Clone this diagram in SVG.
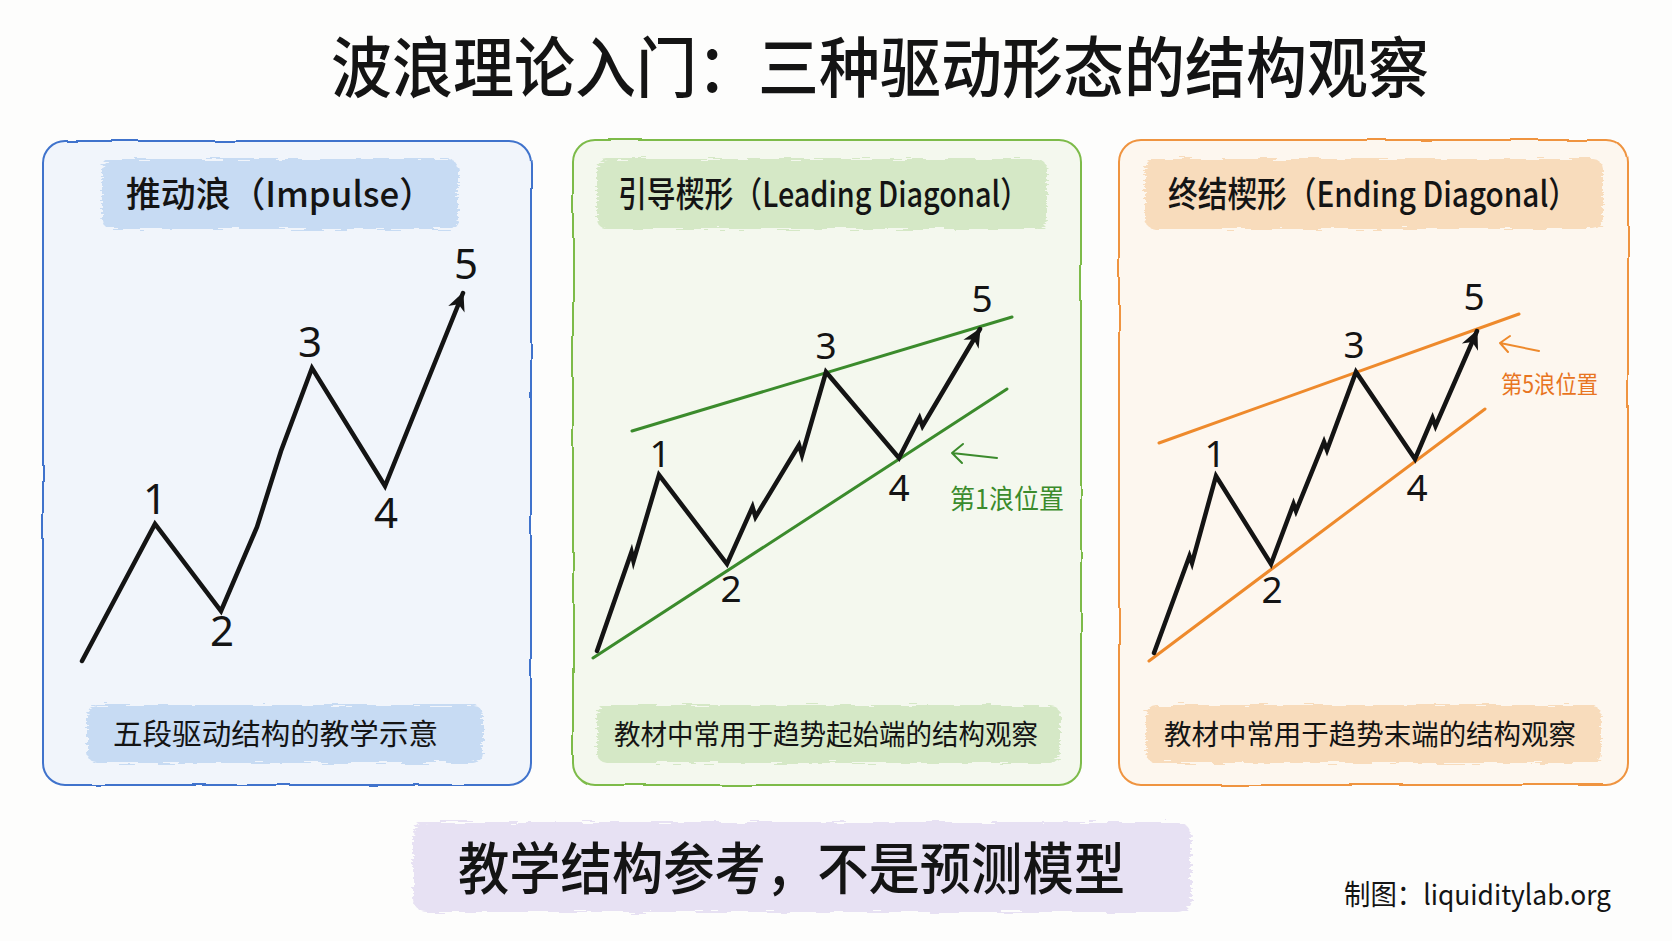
<svg xmlns="http://www.w3.org/2000/svg" width="1672" height="941" viewBox="0 0 1672 941">
<defs>
<style>
.t{font-family:"Noto Sans CJK SC","Noto Sans",sans-serif;fill:#141414}
.title{font-size:66px;font-weight:500}
.hd{font-size:35px;font-weight:500}
.cap{font-size:29px}
.num{font-size:42px;text-anchor:middle;font-family:"Noto Sans","Noto Sans CJK SC",sans-serif;fill:#141414}
.num2{font-size:37px}
.wave{fill:none;stroke:#141414;stroke-width:4.5;stroke-linejoin:miter;stroke-linecap:round}
.gline{stroke:#3b8b2c;stroke-width:3;fill:none;stroke-linecap:round}
.oline{stroke:#ee8a2c;stroke-width:3;fill:none;stroke-linecap:round}
.thin{fill:none;stroke-width:2;stroke-linecap:round;stroke-linejoin:round}
</style>
<filter id="brush" x="-5%" y="-20%" width="110%" height="140%">
<feTurbulence type="fractalNoise" baseFrequency="0.04 0.5" numOctaves="2" seed="3"/>
<feDisplacementMap in="SourceGraphic" scale="9"/>
</filter>
<filter id="wobble" x="-2%" y="-2%" width="104%" height="104%">
<feTurbulence type="fractalNoise" baseFrequency="0.02" numOctaves="1" seed="7"/>
<feDisplacementMap in="SourceGraphic" scale="3"/>
</filter>
<marker id="ah" markerUnits="userSpaceOnUse" viewBox="0 0 20 20" refX="18" refY="10" markerWidth="22" markerHeight="22" orient="auto">
<path d="M2,2 L19,10 L2,18 L7,10 Z" fill="#141414"/>
</marker>
</defs>
<rect width="1672" height="941" fill="#fdfdfc"/>

<text class="t title" x="331" y="92" textLength="1098" lengthAdjust="spacingAndGlyphs">波浪理论入门：三种驱动形态的结构观察</text>

<!-- Panel 1 -->
<g id="panel-impulse">
<rect x="43" y="141" width="488" height="644" rx="22" fill="#f1f5fb" stroke="#3f73cc" stroke-width="2" filter="url(#wobble)"/>
<rect x="102" y="159" width="356" height="70" rx="10" fill="#c7dbf3" filter="url(#brush)"/>
<text class="t hd" x="126" y="207" textLength="308" lengthAdjust="spacingAndGlyphs">推动浪（Impulse）</text>
<path class="wave" d="M82,661 L155,524 L221,611 L257,527 L281,451 L312,368 L385,486 L463,293" marker-end="url(#ah)"/>
<text class="num" x="155" y="514">1</text>
<text class="num" x="222" y="646">2</text>
<text class="num" x="310" y="357">3</text>
<text class="num" x="386" y="528">4</text>
<text class="num" x="466" y="279">5</text>
<rect x="87" y="705" width="396" height="58" rx="10" fill="#c7dbf3" filter="url(#brush)"/>
<text class="t cap" x="113" y="745" textLength="325" lengthAdjust="spacingAndGlyphs">五段驱动结构的教学示意</text>
</g>

<!-- Panel 2 -->
<g id="panel-leading">
<rect x="573" y="140" width="508" height="645" rx="22" fill="#f4f8ee" stroke="#7dbb4a" stroke-width="2" filter="url(#wobble)"/>
<rect x="597" y="159" width="450" height="70" rx="10" fill="#d5e8c6" filter="url(#brush)"/>
<text class="t hd" x="618" y="207" textLength="411" lengthAdjust="spacingAndGlyphs">引导楔形（Leading Diagonal）</text>
<line class="gline" x1="632" y1="431" x2="1012" y2="317"/>
<line class="gline" x1="593" y1="658" x2="1007" y2="389"/>
<path class="wave" d="M597,651 L631.5,552 L633.5,561 L659,475 L727,564 L752.5,507 L755.5,517 L799,445 L802,455 L826,372 L899,458 L919.5,418 L922.5,426 L980,329" marker-end="url(#ah)"/>
<text class="num num2" x="660" y="467">1</text>
<text class="num num2" x="731" y="602">2</text>
<text class="num num2" x="826" y="359">3</text>
<text class="num num2" x="899" y="501">4</text>
<text class="num num2" x="982" y="312">5</text>
<path class="thin" stroke="#3b8b2c" d="M997,458 L952,453 M963,444 L952,453 L962,463"/>
<text class="t" x="950" y="509" font-size="27" style="fill:#3b8b2c" textLength="114" lengthAdjust="spacingAndGlyphs">第1浪位置</text>
<rect x="597" y="705" width="463" height="58" rx="10" fill="#d5e8c6" filter="url(#brush)"/>
<text class="t" x="614" y="745" font-size="28" textLength="424" lengthAdjust="spacingAndGlyphs">教材中常用于趋势起始端的结构观察</text>
</g>

<!-- Panel 3 -->
<g id="panel-ending">
<rect x="1119" y="140" width="509" height="645" rx="22" fill="#fdf7ef" stroke="#ef9440" stroke-width="2" filter="url(#wobble)"/>
<rect x="1145" y="159" width="458" height="70" rx="10" fill="#f8dcbc" filter="url(#brush)"/>
<text class="t hd" x="1168" y="207" textLength="410" lengthAdjust="spacingAndGlyphs">终结楔形（Ending Diagonal）</text>
<line class="oline" x1="1159" y1="443" x2="1519" y2="314"/>
<line class="oline" x1="1149" y1="661" x2="1485" y2="409"/>
<path class="wave" d="M1154,653 L1189.5,556 L1192,563 L1216,476 L1271,564 L1293.5,504 L1296,511 L1324,442 L1327,450 L1356,372 L1415,459 L1432.5,418 L1435.5,426 L1477,331" marker-end="url(#ah)"/>
<text class="num num2" x="1215" y="467">1</text>
<text class="num num2" x="1272" y="603">2</text>
<text class="num num2" x="1354" y="358">3</text>
<text class="num num2" x="1417" y="501">4</text>
<text class="num num2" x="1474" y="310">5</text>
<path class="thin" stroke="#ee8a2c" d="M1539,351 L1500,343 M1510,336 L1500,343 L1508,352"/>
<text class="t" x="1501" y="393" font-size="24" style="fill:#e8751f" textLength="97" lengthAdjust="spacingAndGlyphs">第5浪位置</text>
<rect x="1146" y="705" width="455" height="58" rx="10" fill="#f8dcbc" filter="url(#brush)"/>
<text class="t" x="1164" y="745" font-size="28" textLength="412" lengthAdjust="spacingAndGlyphs">教材中常用于趋势末端的结构观察</text>
</g>

<!-- Bottom -->
<g id="footer">
<rect x="413" y="822" width="778" height="90" rx="14" fill="#e7e1f3" filter="url(#brush)"/>
<text class="t" x="458" y="889" font-size="56" font-weight="500" textLength="667" lengthAdjust="spacingAndGlyphs">教学结构参考，不是预测模型</text>
<text class="t" x="1344" y="905" font-size="28" textLength="267" lengthAdjust="spacingAndGlyphs">制图：liquiditylab.org</text>
</g>
</svg>
